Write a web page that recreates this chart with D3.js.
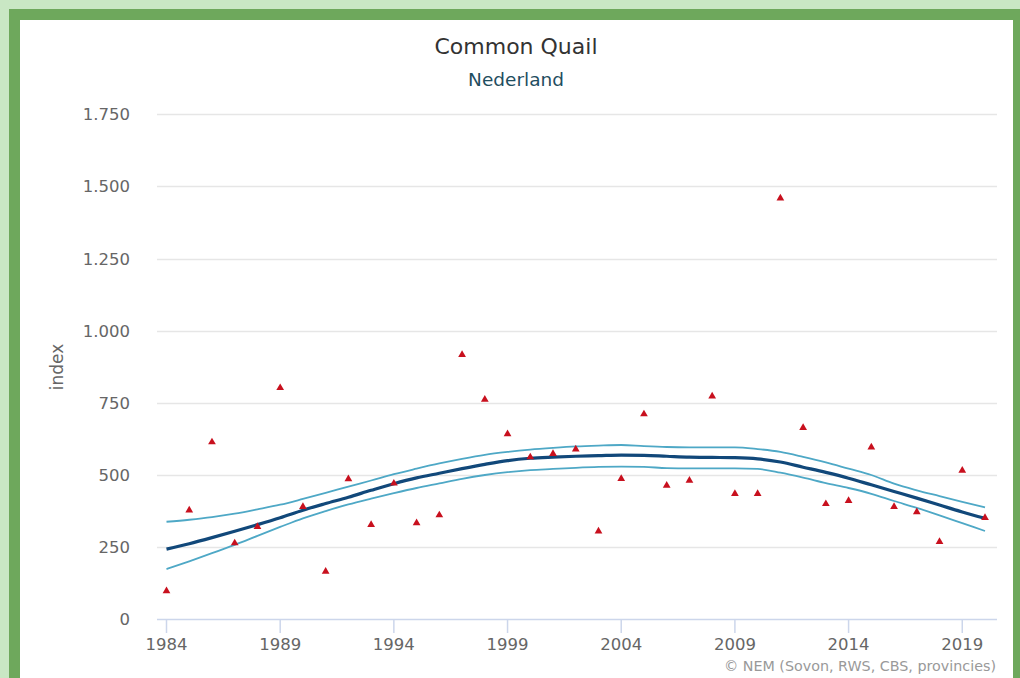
<!DOCTYPE html>
<html>
<head>
<meta charset="utf-8">
<script src="https://cdn.jsdelivr.net/npm/d3@7"></script>
<style>
  html, body { margin: 0; padding: 0; background: #c9e7c4; overflow: hidden; }
  #frame {
    position: absolute; left: 9px; top: 9px; width: 993px; height: 700px;
    background: #fff; border: 11px solid #6ea85c; border-bottom: none;
  }
  svg { position: absolute; left: 0; top: 0; }
  text { font-family: "DejaVu Sans", Verdana, sans-serif; }
</style>
</head>
<body>
<div id="frame"></div>
<div id="chart"></div>
<script>
// Years 1984 - 2020
const years = d3.range(1984, 2021);

// Yearly index values (red triangles)
const indexValues = [
  98, 378, 614, 264, 321, 802, 390, 166, 486, 328,
  471, 334, 361, 917, 762, 642, 562, 574, 589, 305,
  487, 711, 464, 481, 773, 435, 435, 1459, 664, 400,
  411, 596, 390, 372, 269, 516, 352
];

// Smoothed trend and confidence limits
const trendValues = [
  243, 262, 283, 305, 328, 352, 378, 401, 423, 447,
  470, 490, 506, 522, 537, 550, 558, 562, 565, 567,
  569, 568, 565, 562, 561, 560, 556, 545, 527, 509,
  489, 466, 443, 420, 396, 372, 350
];
const upperValues = [
  338, 345, 354, 366, 381, 397, 417, 438, 460, 481,
  503, 522, 540, 556, 570, 580, 588, 594, 599, 602,
  604, 600, 597, 596, 596, 596, 590, 580, 563, 544,
  522, 500, 470, 447, 427, 407, 388
];
const lowerValues = [
  174, 201, 229, 258, 289, 320, 350, 375, 398, 418,
  437, 455, 471, 487, 500, 510, 517, 521, 525, 528,
  529, 528, 524, 523, 523, 523, 521, 508, 491, 472,
  455, 435, 410, 386, 360, 333, 306
];

const yTicks = [0, 250, 500, 750, 1000, 1250, 1500, 1750];
const xTicks = [1984, 1989, 1994, 1999, 2004, 2009, 2014, 2019];

const width = 1020;
const height = 678;
const plot = { left: 157, right: 997, top: 114, bottom: 619 };

const svg = d3.select("#chart")
  .append("svg")
  .attr("width", width)
  .attr("height", height);

const x = d3.scaleLinear()
  .domain([1984, 2020])
  .range([166.5, 985]);

const y = d3.scaleLinear()
  .domain([0, 1750])
  .range([619.3, 114.3]);

// Title and subtitle
svg.append("text")
  .attr("x", 516)
  .attr("y", 54)
  .attr("text-anchor", "middle")
  .style("font-size", "22px")
  .style("fill", "#333")
  .text("Common Quail");

svg.append("text")
  .attr("x", 516)
  .attr("y", 86)
  .attr("text-anchor", "middle")
  .style("font-size", "18.5px")
  .style("fill", "#1f4e5f")
  .text("Nederland");

// Gridlines
svg.append("g")
  .selectAll("line")
  .data(yTicks.filter(d => d > 0))
  .enter()
  .append("line")
  .attr("x1", plot.left)
  .attr("x2", plot.right)
  .attr("y1", d => Math.round(y(d)) + 0.5)
  .attr("y2", d => Math.round(y(d)) + 0.5)
  .attr("stroke", "#e6e6e6")
  .attr("stroke-width", 1.5);

// Y axis labels
svg.append("g")
  .selectAll("text")
  .data(yTicks)
  .enter()
  .append("text")
  .attr("x", 130)
  .attr("y", d => y(d))
  .attr("dy", "0.36em")
  .attr("text-anchor", "end")
  .style("font-size", "16.5px")
  .style("fill", "#666")
  .text(d => d3.format(",")(d).replace(",", "."));

svg.append("text")
  .attr("transform", "translate(63,367) rotate(-90)")
  .attr("text-anchor", "middle")
  .style("font-size", "17px")
  .style("fill", "#666")
  .text("index");

// X axis line, ticks and labels
svg.append("line")
  .attr("x1", plot.left)
  .attr("x2", plot.right)
  .attr("y1", 619.5)
  .attr("y2", 619.5)
  .attr("stroke", "#ccd6eb")
  .attr("stroke-width", 1.5);

const xAxis = svg.append("g");
xAxis.selectAll("line")
  .data(xTicks)
  .enter()
  .append("line")
  .attr("x1", d => x(d))
  .attr("x2", d => x(d))
  .attr("y1", 619)
  .attr("y2", 633)
  .attr("stroke", "#ccd6eb")
  .attr("stroke-width", 1.5);

xAxis.selectAll("text")
  .data(xTicks)
  .enter()
  .append("text")
  .attr("x", d => x(d))
  .attr("y", 650)
  .attr("text-anchor", "middle")
  .style("font-size", "16.5px")
  .style("fill", "#666")
  .text(d => d);

// Confidence limits and trend
const line = vals => d3.line()
  .x((d, i) => x(years[i]))
  .y(d => y(d))
  .curve(d3.curveMonotoneX)(vals);

svg.append("path")
  .attr("d", line(upperValues))
  .attr("fill", "none")
  .attr("stroke", "#4ea8c6")
  .attr("stroke-width", 1.8);

svg.append("path")
  .attr("d", line(lowerValues))
  .attr("fill", "none")
  .attr("stroke", "#4ea8c6")
  .attr("stroke-width", 1.8);

svg.append("path")
  .attr("d", line(trendValues))
  .attr("fill", "none")
  .attr("stroke", "#11487a")
  .attr("stroke-width", 3.2);

// Index points
svg.append("g")
  .selectAll("path")
  .data(indexValues)
  .enter()
  .append("path")
  .attr("transform", (d, i) => `translate(${x(years[i])},${y(d)})`)
  .attr("d", d3.symbol(d3.symbolTriangle, 26))
  .attr("fill", "#c8101e");

// Credits
svg.append("text")
  .attr("x", 996)
  .attr("y", 671)
  .attr("text-anchor", "end")
  .style("font-size", "14.3px")
  .style("fill", "#999")
  .text("© NEM (Sovon, RWS, CBS, provincies)");
</script>
</body>
</html>
